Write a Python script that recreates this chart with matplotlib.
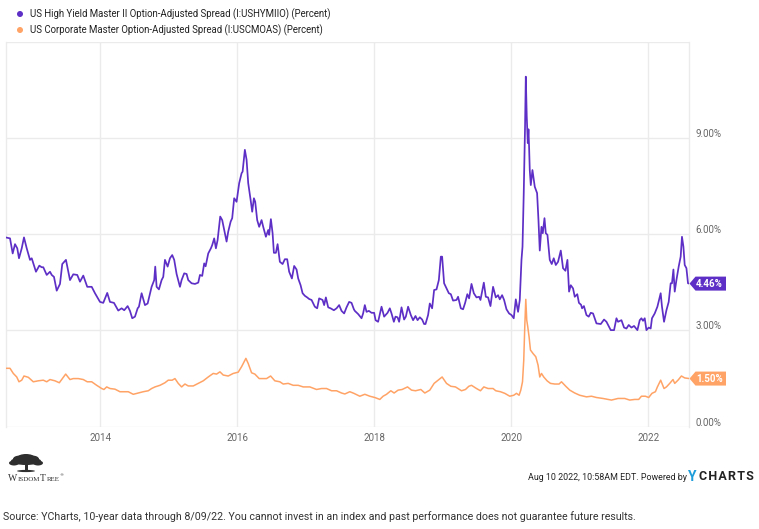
import numpy as np
import matplotlib
matplotlib.use("Agg")
import matplotlib.pyplot as plt
from matplotlib.patches import Polygon, Ellipse, Circle, Rectangle

# ---- data (decimal year, percent) ----
hy_t = [2012.616, 2012.679, 2012.718, 2012.752, 2012.785, 2012.810, 2012.850, 2012.883, 2012.923, 2012.971,
        2012.996, 2013.058, 2013.107, 2013.142, 2013.165, 2013.215, 2013.263, 2013.288, 2013.321, 2013.361,
        2013.409, 2013.442, 2013.496, 2013.530, 2013.555, 2013.603, 2013.661, 2013.701, 2013.749, 2013.807,
        2013.872, 2013.920, 2013.993, 2014.041, 2014.099, 2014.139, 2014.197, 2014.260, 2014.309, 2014.347,
        2014.397, 2014.431, 2014.464, 2014.504, 2014.543, 2014.562, 2014.601, 2014.650, 2014.689, 2014.712,
        2014.747, 2014.785, 2014.800, 2014.820, 2014.854, 2014.893, 2014.917, 2014.942, 2014.981, 2015.015,
        2015.048, 2015.077, 2015.112, 2015.161, 2015.185, 2015.223, 2015.258, 2015.282, 2015.331, 2015.380,
        2015.428, 2015.453, 2015.486, 2015.515, 2015.536, 2015.574, 2015.613, 2015.632, 2015.661, 2015.686,
        2015.711, 2015.749, 2015.778, 2015.818, 2015.842, 2015.866, 2015.901, 2015.924, 2015.953, 2015.988,
        2016.026, 2016.061, 2016.076, 2016.109, 2016.134, 2016.158, 2016.193, 2016.216, 2016.241, 2016.260,
        2016.289, 2016.318, 2016.353, 2016.377, 2016.416, 2016.450, 2016.464, 2016.489, 2016.514, 2016.533,
        2016.562, 2016.587, 2016.620, 2016.660, 2016.693, 2016.727, 2016.756, 2016.796, 2016.829, 2016.864,
        2016.888, 2016.923, 2016.952, 2016.985, 2017.019, 2017.048, 2017.083, 2017.131, 2017.165, 2017.194,
        2017.244, 2017.267, 2017.292, 2017.326, 2017.361, 2017.409, 2017.448, 2017.486, 2017.521, 2017.559,
        2017.594, 2017.632, 2017.667, 2017.701, 2017.715, 2017.764, 2017.813, 2017.836, 2017.861, 2017.886,
        2017.920, 2017.959, 2017.997, 2018.018, 2018.055, 2018.105, 2018.143, 2018.193, 2018.226, 2018.251,
        2018.285, 2018.309, 2018.339, 2018.362, 2018.397, 2018.435, 2018.460, 2018.493, 2018.533, 2018.566,
        2018.601, 2018.631, 2018.664, 2018.698, 2018.727, 2018.747, 2018.785, 2018.810, 2018.844, 2018.873,
        2018.908, 2018.942, 2018.971, 2018.990, 2019.019, 2019.054, 2019.088, 2019.117, 2019.150, 2019.200,
        2019.223, 2019.263, 2019.296, 2019.326, 2019.358, 2019.384, 2019.419, 2019.453, 2019.492, 2019.530,
        2019.550, 2019.599, 2019.628, 2019.661, 2019.696, 2019.734, 2019.774, 2019.807, 2019.832, 2019.866,
        2019.895, 2019.930, 2019.968, 2020.003, 2020.036, 2020.066, 2020.099, 2020.124, 2020.149, 2020.164,
        2020.182, 2020.201, 2020.212, 2020.226, 2020.241, 2020.251, 2020.260, 2020.270, 2020.285, 2020.309,
        2020.343, 2020.377, 2020.397, 2020.416, 2020.441, 2020.460, 2020.485, 2020.504, 2020.528, 2020.562,
        2020.591, 2020.620, 2020.650, 2020.683, 2020.723, 2020.756, 2020.791, 2020.820, 2020.844, 2020.869,
        2020.902, 2020.927, 2020.964, 2020.988, 2021.019, 2021.034, 2021.061, 2021.098, 2021.131, 2021.161,
        2021.194, 2021.244, 2021.307, 2021.355, 2021.390, 2021.453, 2021.501, 2021.536, 2021.559, 2021.609,
        2021.647, 2021.682, 2021.715, 2021.755, 2021.793, 2021.842, 2021.876, 2021.901, 2021.924, 2021.949,
        2021.974, 2022.007, 2022.036, 2022.055, 2022.095, 2022.134, 2022.182, 2022.201, 2022.231, 2022.266,
        2022.299, 2022.328, 2022.347, 2022.368, 2022.387, 2022.412, 2022.445, 2022.474, 2022.493, 2022.514,
        2022.533, 2022.558, 2022.581, 2022.600]
hy_v = [5.90, 5.87, 5.40, 5.69, 5.56, 5.25, 5.56, 5.90, 5.56, 5.20,
        5.25, 4.83, 5.02, 4.97, 4.97, 4.73, 4.83, 4.73, 4.67, 4.24,
        4.45, 5.07, 5.20, 4.83, 4.57, 4.75, 4.73, 4.52, 4.71, 4.36,
        4.36, 4.16, 3.89, 3.86, 4.17, 3.89, 3.86, 3.62, 3.69, 3.63,
        3.76, 3.61, 3.38, 3.43, 3.69, 3.74, 4.16, 3.79, 3.84, 4.05,
        4.36, 4.57, 4.99, 4.36, 4.28, 4.57, 4.67, 5.20, 4.99, 5.25,
        5.35, 5.20, 4.76, 4.36, 4.57, 4.78, 4.76, 4.57, 4.47, 4.45,
        4.49, 4.73, 4.70, 5.09, 5.00, 5.40, 5.56, 5.66, 5.87, 5.56,
        5.82, 6.55, 6.44, 6.03, 5.77, 6.08, 6.39, 6.50, 7.12, 7.01,
        7.59, 7.90, 7.95, 8.63, 8.32, 7.59, 7.07, 6.70, 7.12, 7.01,
        6.44, 6.23, 6.44, 6.23, 5.92, 6.13, 5.98, 6.47, 6.03, 5.42,
        5.42, 5.69, 5.14, 5.07, 5.22, 5.22, 4.83, 4.62, 5.01, 4.90,
        4.62, 4.41, 4.16, 4.08, 4.03, 3.98, 3.95, 3.74, 3.69, 4.00,
        3.95, 3.79, 4.03, 3.72, 3.69, 3.63, 3.69, 3.79, 3.61, 3.53,
        3.72, 3.89, 3.86, 3.66, 3.61, 3.51, 3.38, 3.53, 3.79, 3.58,
        3.61, 3.55, 3.55, 3.32, 3.27, 3.74, 3.43, 3.55, 3.69, 3.53,
        3.27, 3.43, 3.41, 3.27, 3.72, 3.34, 3.43, 3.74, 3.48, 3.32,
        3.45, 3.32, 3.41, 3.34, 3.20, 3.20, 3.48, 3.84, 3.69, 4.26,
        4.28, 4.57, 5.30, 5.30, 4.47, 4.31, 4.16, 4.13, 3.93, 3.95,
        4.05, 3.69, 3.66, 3.86, 4.13, 4.00, 4.45, 4.16, 4.03, 4.05,
        3.95, 4.49, 4.05, 4.03, 3.76, 4.36, 4.03, 4.10, 3.97, 4.10,
        3.95, 3.66, 3.53, 3.48, 3.38, 3.97, 3.58, 3.95, 5.20, 5.61,
        7.28, 9.35, 10.91, 9.67, 8.84, 9.27, 8.73, 8.00, 7.53, 8.00,
        7.48, 7.28, 6.44, 5.49, 6.23, 6.03, 6.50, 6.03, 5.98, 5.20,
        5.07, 5.25, 5.04, 5.14, 5.49, 4.94, 4.86, 5.20, 4.21, 4.41,
        4.31, 4.05, 4.13, 3.86, 3.80, 3.69, 3.76, 3.48, 3.43, 3.55,
        3.53, 3.22, 3.20, 3.34, 3.27, 3.01, 3.01, 3.38, 3.27, 3.32,
        3.09, 3.06, 3.17, 3.09, 3.14, 3.01, 3.32, 3.38, 3.30, 3.38,
        3.01, 3.09, 3.06, 3.38, 3.53, 3.74, 4.16, 3.74, 3.27, 3.63,
        3.89, 4.47, 4.47, 4.90, 4.21, 4.57, 4.99, 5.30, 5.92, 5.61,
        5.04, 4.94, 4.47, 4.46]

ig_t = [2012.616, 2012.679, 2012.727, 2012.777, 2012.810, 2012.850, 2012.883, 2012.946, 2013.019, 2013.092,
        2013.165, 2013.215, 2013.263, 2013.336, 2013.399, 2013.434, 2013.492, 2013.555, 2013.603, 2013.676,
        2013.749, 2013.807, 2013.872, 2013.945, 2014.018, 2014.051, 2014.091, 2014.139, 2014.212, 2014.285,
        2014.343, 2014.406, 2014.479, 2014.552, 2014.625, 2014.698, 2014.747, 2014.796, 2014.869, 2014.942,
        2014.990, 2015.048, 2015.088, 2015.136, 2015.185, 2015.234, 2015.282, 2015.355, 2015.428, 2015.501,
        2015.574, 2015.647, 2015.696, 2015.745, 2015.793, 2015.866, 2015.939, 2016.012, 2016.061, 2016.124,
        2016.158, 2016.207, 2016.255, 2016.318, 2016.377, 2016.426, 2016.485, 2016.547, 2016.620, 2016.669,
        2016.742, 2016.815, 2016.888, 2016.961, 2017.058, 2017.156, 2017.229, 2017.302, 2017.375, 2017.448,
        2017.521, 2017.569, 2017.642, 2017.701, 2017.788, 2017.861, 2017.934, 2018.007, 2018.080, 2018.128,
        2018.178, 2018.241, 2018.289, 2018.347, 2018.406, 2018.485, 2018.543, 2018.601, 2018.679, 2018.737,
        2018.810, 2018.873, 2018.931, 2018.990, 2019.054, 2019.117, 2019.185, 2019.273, 2019.331, 2019.380,
        2019.419, 2019.492, 2019.550, 2019.599, 2019.661, 2019.734, 2019.774, 2019.842, 2019.905, 2019.978,
        2020.036, 2020.076, 2020.114, 2020.139, 2020.164, 2020.182, 2020.197, 2020.212, 2020.226, 2020.241,
        2020.260, 2020.280, 2020.318, 2020.358, 2020.391, 2020.416, 2020.441, 2020.474, 2020.523, 2020.572,
        2020.635, 2020.698, 2020.733, 2020.796, 2020.854, 2020.927, 2021.000, 2021.098, 2021.171, 2021.244,
        2021.340, 2021.463, 2021.559, 2021.657, 2021.730, 2021.803, 2021.861, 2021.901, 2021.959, 2022.007,
        2022.055, 2022.105, 2022.134, 2022.182, 2022.201, 2022.231, 2022.266, 2022.314, 2022.362, 2022.387,
        2022.435, 2022.485, 2022.533, 2022.600]
ig_v = [1.82, 1.82, 1.66, 1.55, 1.40, 1.45, 1.58, 1.54, 1.40, 1.43,
        1.45, 1.40, 1.47, 1.43, 1.37, 1.47, 1.64, 1.47, 1.50, 1.50,
        1.47, 1.40, 1.40, 1.29, 1.19, 1.16, 1.24, 1.19, 1.17, 1.09,
        1.09, 1.09, 1.01, 1.05, 1.09, 1.12, 1.19, 1.24, 1.29, 1.37,
        1.45, 1.45, 1.50, 1.35, 1.24, 1.33, 1.27, 1.27, 1.35, 1.43,
        1.55, 1.66, 1.64, 1.71, 1.61, 1.58, 1.66, 1.70, 1.87, 2.13,
        1.97, 1.68, 1.64, 1.50, 1.50, 1.50, 1.58, 1.43, 1.40, 1.33,
        1.35, 1.29, 1.29, 1.24, 1.24, 1.16, 1.19, 1.19, 1.12, 1.12,
        1.05, 1.02, 1.09, 1.04, 0.95, 1.01, 0.95, 0.91, 0.85, 0.95,
        1.01, 1.12, 1.05, 1.14, 1.16, 1.24, 1.14, 1.12, 1.16, 1.05,
        1.14, 1.35, 1.45, 1.55, 1.35, 1.26, 1.24, 1.12, 1.16, 1.26,
        1.29, 1.19, 1.12, 1.24, 1.19, 1.19, 1.12, 1.09, 1.04, 0.95,
        0.98, 1.04, 0.98, 1.14, 1.40, 2.07, 3.11, 3.97, 3.32, 3.11,
        2.80, 2.39, 2.28, 2.18, 1.92, 1.55, 1.66, 1.55, 1.43, 1.35,
        1.33, 1.33, 1.40, 1.26, 1.14, 1.05, 0.98, 0.93, 0.95, 0.91,
        0.88, 0.83, 0.88, 0.88, 0.83, 0.85, 0.85, 0.95, 0.95, 0.91,
        1.04, 1.09, 1.24, 1.45, 1.35, 1.19, 1.24, 1.35, 1.47, 1.35,
        1.45, 1.58, 1.52, 1.50]

series_names = ["US High Yield Master II Option-Adjusted Spread (I:USHYMIIO) (Percent)",
                "US Corporate Master Option-Adjusted Spread (I:USCMOAS) (Percent)"]
year_ticks = [2014, 2016, 2018, 2020, 2022]
pct_ticks = [0, 3, 6, 9]

PURPLE = "#5e2fc6"
ORANGE = "#ffa366"
GRID = "#ebebeb"
TICK = "#666666"
FONT = "Roboto"

W, H = 759, 529
fig = plt.figure(figsize=(W / 100, H / 100), dpi=100)
fig.patch.set_facecolor("white")

# main plot area (pixel box: x 5.7..689.3, y 41.7..426.7)
ax = fig.add_axes([5.7 / W, (H - 426.7) / H, (689.3 - 5.7) / W, 385 / H])
ax.plot(ig_t, ig_v, color=ORANGE, lw=1.1, zorder=3)
ax.plot(hy_t, hy_v, color=PURPLE, lw=1.25, zorder=4)
ax.set_xlim(hy_t[0], hy_t[-1])
ax.set_ylim(0, 12)

for y in pct_ticks + [12]:
    ax.axhline(y, color=GRID, lw=1, zorder=1)
for yr in year_ticks:
    ax.axvline(yr, color=GRID, lw=1, zorder=1)
for s in ["top", "bottom"]:
    ax.spines[s].set_visible(False)
for s in ["left", "right"]:
    ax.spines[s].set_color(GRID)
    ax.spines[s].set_linewidth(1)

ax.set_xticks(year_ticks)
ax.set_xticklabels([str(y) for y in year_ticks], family=FONT, fontsize=7, color=TICK)
ax.tick_params(axis="x", length=0, pad=4.5)
ax.set_yticks([])

# right-side percent labels, sitting just above their grid lines
ytr = ax.get_yaxis_transform()
for v in pct_ticks:
    ax.annotate(f"{v:.2f}%", xy=(1, v), xycoords=ytr, xytext=(6, 4), textcoords="offset pixels",
                ha="left", va="center", family=FONT, fontsize=7, color=TICK, annotation_clip=False)

# overlay in figure pixel coords for legend, tags, footer
ov = fig.add_axes([0, 0, 1, 1], zorder=10)
ov.set_xlim(0, W)
ov.set_ylim(H, 0)
ov.axis("off")
ov.patch.set_alpha(0)

# legend
for i, (name, col) in enumerate(zip(series_names, [PURPLE, ORANGE])):
    yy = 14 + 16 * i
    ov.add_patch(Circle((20, yy), 3, color=col, lw=0))
    ov.text(30, yy, name, family=FONT, fontsize=6.9, color="#222222", va="center", ha="left")

# last-value tags
fig.canvas.draw()
for vals, col in [(hy_v, PURPLE), (ig_v, ORANGE)]:
    last = vals[-1]
    ypix = H - ax.transData.transform((hy_t[-1], last))[1]
    x0, x1, h = 689.5, 726, 7
    ov.add_patch(Polygon([[x0, ypix], [x0 + 6, ypix - h], [x1, ypix - h], [x1, ypix + h], [x0 + 6, ypix + h]],
                         closed=True, color=col, lw=0))
    ov.text(709.5, ypix + 0.5, f"{last:.2f}%", color="white", fontweight="bold", family=FONT,
            fontsize=7, ha="center", va="center")

# WisdomTree logo (rough)
tree = "#2e2e2e"
for cx, cy, w, h in [(26, 461, 30, 8), (20, 459, 14, 7), (32, 459, 14, 7), (26, 457, 16, 6), (14, 463, 10, 5), (38, 463, 10, 5)]:
    ov.add_patch(Ellipse((cx, cy), w, h, color=tree, lw=0))
ov.add_patch(Rectangle((24.5, 462), 3, 9, color=tree, lw=0))
ov.add_patch(Ellipse((26, 471), 18, 2.2, color=tree, lw=0))

rend = fig.canvas.get_renderer()
xx = 8
for part, fs in [("W", 7), ("ISDOM", 5), ("T", 7), ("REE", 5)]:
    t = ov.text(xx, 481, part, family="Liberation Serif", fontsize=fs, color="#333333", ha="left", va="baseline")
    bb = t.get_window_extent(renderer=rend)
    xx += bb.width + 0.3
ov.text(xx, 476, "®", family="DejaVu Sans", fontsize=3, color="#333333", ha="left", va="baseline")

# footer
ov.text(687, 477, "Aug 10 2022, 10:58AM EDT. Powered by", family=FONT, fontsize=6.4, color="#222222",
        ha="right", va="center")
ov.text(688, 477, "Y", family=FONT, fontweight="bold", fontsize=10, color="#1e9ddb", ha="left", va="center")
ov.text(699, 477, "C H A R T S".replace(" ", "\u200a"), family=FONT, fontweight="bold", fontsize=9,
        color="#222222", ha="left", va="center")

ov.text(3, 517, "Source: YCharts, 10-year data through 8/09/22. You cannot invest in an index and past performance "
        "does not guarantee future results.", family=FONT, fontsize=7.65, color="#333333", ha="left", va="center")

fig.savefig("out.png", dpi=100)
